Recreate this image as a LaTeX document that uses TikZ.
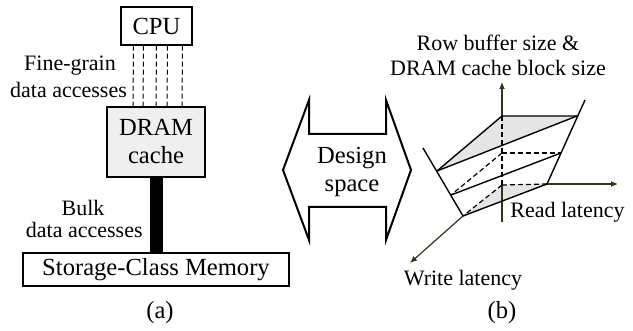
\documentclass[tikz,border=0pt]{standalone}
\usepackage{fontspec}
\setmainfont{Liberation Serif}
\usetikzlibrary{arrows.meta}

\newlength{\du}
\setlength{\du}{0.5pt}

\definecolor{dialinecolor}{rgb}{0.000000, 0.000000, 0.000000}
\definecolor{cachegray}{rgb}{0.937000, 0.937000, 0.937000}
\definecolor{facegray}{rgb}{0.900000, 0.900000, 0.900000}
\definecolor{axiscolor}{rgb}{0.200000, 0.200000, 0.100000}

\tikzset{
  bigtext/.style={font=\fontsize{12.3}{14}\selectfont, inner sep=0pt},
  smalltext/.style={font=\fontsize{11}{12.5}\selectfont, inner sep=0pt},
  unitbox/.style={draw=dialinecolor, line width=1.2\du, inner sep=0pt, bigtext},
  fineaccess/.style={line width=1\du, dash pattern=on 5\du off 3\du},
  bulkaccess/.style={line width=13\du},
  axisline/.style={draw=axiscolor, line width=1.2\du},
  axisarrow/.style={axisline, -{Latex[length=3.5pt,width=3pt]}},
  hiddenline/.style={line width=1.2\du, dash pattern=on 5\du off 3\du},
  edgeline/.style={line width=1.4\du}
}

\begin{document}
\begin{tikzpicture}
\pgftransformxscale{1.000000}
\pgftransformyscale{-1.000000}
\useasboundingbox (0\du,0\du) rectangle (633\du,331\du);
% (a) memory hierarchy
\node[unitbox, minimum width=71\du, minimum height=38\du] (cpu) at (156.5\du,26\du) {CPU};
\node[unitbox, fill=cachegray, minimum width=98\du, minimum height=70\du, align=center] (dram) at (156\du,142\du) {DRAM\\cache};
\node[unitbox, minimum width=266\du, minimum height=33\du] (scm) at (156\du,269.5\du) {Storage-Class Memory};
\foreach \dx in {-23,-13,0,11,26}
  \draw[fineaccess] ([xshift=\dx\du]cpu.south) -- ([xshift=\dx\du]dram.north);
\draw[bulkaccess] (dram.south) -- (scm.north);
\node[smalltext] (finelabel) at (70\du,66\du) {Fine-grain};
\node[smalltext] (finelabelb) at (68.5\du,90\du) {data accesses};
\node[smalltext] (bulklabel) at (83\du,208\du) {Bulk};
\node[smalltext, anchor=east] (bulklabelb) at (143\du,230\du) {data accesses};
\node[bigtext] (capa) at (160\du,313\du) {(a)};
% design space arrow
\draw[line width=2\du, line join=miter] (283\du,170\du)--(309\du,100\du)--(309\du,134\du)--(386\du,134\du)--(386\du,100\du)--(411\du,170\du)--(386\du,240\du)--(386\du,207\du)--(309\du,207\du)--(309\du,240\du)--cycle;
\node[bigtext, align=center] (design) at (352\du,172\du) {Design\\space};
% (b) design space
\coordinate (orig) at (502\du,185\du);
\coordinate (rtop) at (577\du,116\du);
\coordinate (rmid) at (561\du,153\du);
\coordinate (rbot) at (547\du,184\du);
\coordinate (vtop) at (502\du,116\du);
\coordinate (vmid) at (502\du,153\du);
\coordinate (wtop) at (437\du,171\du);
\coordinate (wmid) at (451\du,195\du);
\coordinate (wbot) at (463\du,216\du);
\coordinate (vend) at (502\du,82\du);
\coordinate (rend) at (618\du,184\du);
\coordinate (wend) at (410\du,263\du);
\fill[facegray] (vtop) -- (rtop) -- (wtop) -- cycle;
\fill[facegray] (orig) -- (rbot) -- (wbot) -- cycle;
\draw[axisline] (502\du,222\du) -- (orig);
\draw[axisarrow] (vtop) -- (vend);
\draw[axisarrow] (rbot) -- (rend);
\draw[axisarrow] (wbot) -- (wend);
\draw[hiddenline] (orig) -- (vtop);
\draw[hiddenline] (orig) -- (rbot);
\draw[hiddenline] (orig) -- (wbot);
\draw[hiddenline] (vmid) -- (rmid);
\draw[hiddenline] (vmid) -- (wmid);
\draw[edgeline] (wtop) -- (vtop) -- (rtop);
\draw[edgeline] (wtop) -- (rtop);
\draw[edgeline] (wmid) -- (rmid);
\draw[edgeline] (wbot) -- (rbot);
\draw[edgeline] (423\du,148\du) -- (wbot);
\draw[edgeline] (585\du,100\du) -- (rbot);
\node[smalltext, align=center] (rowlabel) at (498\du,55\du) {Row buffer size \&\\DRAM cache block size};
\node[smalltext, anchor=west] (readlabel) at (510\du,212\du) {Read latency};
\node[smalltext] (writelabel) at (463\du,280\du) {Write latency};
\node[bigtext] (capb) at (502\du,313\du) {(b)};
\end{tikzpicture}
\end{document}
